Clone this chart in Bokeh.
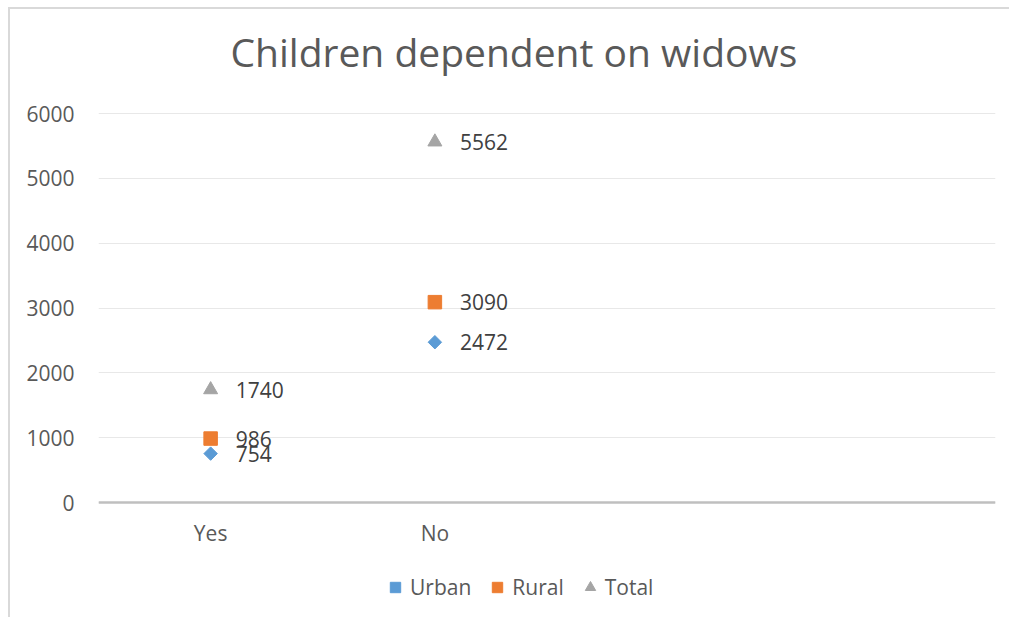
import math
from bokeh.plotting import figure
from bokeh.models import Range1d, FixedTicker, Legend, LegendItem, Span
from bokeh.core.properties import value
from bokeh.embed import file_html
from bokeh.resources import INLINE

categories = ["Yes", "No"]
urban = [754, 2472]
rural = [986, 3090]
total = [1740, 5562]
y_ticks = [0, 1000, 2000, 3000, 4000, 5000, 6000]

FONT = "Open Sans"
TXT = "#595959"

xpos = [i + 0.5 for i in range(len(categories))]

# layout (page px): frame left 98, right 995, y=6000 at 113, y=0 at 502
OX, OY = 10, 9           # figure offset inside page (room for chart border)
W, H = 1011 - OX, 619 - OY
frame_top = 80                       # figure px
px6000, zero_px, bottom_px = 113 - OY, 502 - OY, H
top_val = 6000
ppu = (zero_px - px6000) / top_val   # pixels per unit
ymax = top_val + (px6000 - frame_top) / ppu
ymin = -(bottom_px - zero_px) / ppu

p = figure(width=W, height=H, output_backend="svg", toolbar_location=None,
           x_range=Range1d(0, 4), y_range=Range1d(ymin, ymax),
           x_axis_location=None,
           min_border_left=98 - OX, min_border_right=1011 - 995, min_border_top=frame_top,
           min_border_bottom=0)
p.margin = (OY, 0, 0, OX)
p.styles = {"box-shadow": "-2px -2px 0 0 #d9d9d9"}
p.outline_line_color = None
p.background_fill_color = "white"
p.border_fill_color = "white"

p.title.text = "Children dependent on widows"
p.title.align = "left"
p.title.vertical_align = "top"
p.title.text_font = FONT
p.title.text_font_style = "normal"
p.title.text_font_size = "39px"
p.title.text_color = TXT
p.title.standoff = 20
p.title.offset = 132

p.yaxis.ticker = FixedTicker(ticks=y_ticks)
p.yaxis.major_tick_line_color = None
p.yaxis.minor_tick_line_color = None
p.yaxis.axis_line_color = None
p.yaxis.major_label_text_font = FONT
p.yaxis.major_label_text_font_size = "21px"
p.yaxis.major_label_text_color = TXT
p.yaxis.major_label_standoff = 18

for g in p.grid:
    if g.dimension == 0:
        g.visible = False
p.ygrid.grid_line_color = "#e8e8e8"
p.ygrid.grid_line_width = 1

# category axis line at zero
p.add_layout(Span(location=0, dimension="width", line_color="#bfbfbf", line_width=2.5))
p.text(xpos, [0] * len(xpos), text=categories, y_offset=30, text_align="center",
       text_baseline="middle", text_font=value(FONT), text_font_size="21px", text_color=TXT)

r_u = p.scatter(xpos, urban, marker="square", angle=math.pi / 4, size=9.5,
                fill_color="#5B9BD5", line_color="#5B9BD5")
r_r = p.scatter(xpos, rural, marker="square", size=13.5, fill_color="#ED7D31", line_color="#ED7D31")
r_t = p.scatter(xpos, total, marker="triangle", size=14, fill_color="#A5A5A5", line_color="#A5A5A5")

for vals in (urban, rural, total):
    p.text(xpos, vals, text=[str(v) for v in vals], x_offset=25, text_baseline="middle",
           text_font=value(FONT), text_font_size="21px", text_color="#404040")

legend = Legend(items=[LegendItem(label="Urban", renderers=[r_u]),
                       LegendItem(label="Rural", renderers=[r_r]),
                       LegendItem(label="Total", renderers=[r_t])],
                orientation="horizontal", location=(284, 18),
                label_text_font=FONT, label_text_font_size="21px", label_text_color=TXT,
                border_line_color=None, background_fill_alpha=0,
                glyph_width=26, glyph_height=26, spacing=13, label_standoff=2,
                margin=0, padding=4)
p.add_layout(legend)

open("out.html", "w").write(file_html(p, INLINE))
